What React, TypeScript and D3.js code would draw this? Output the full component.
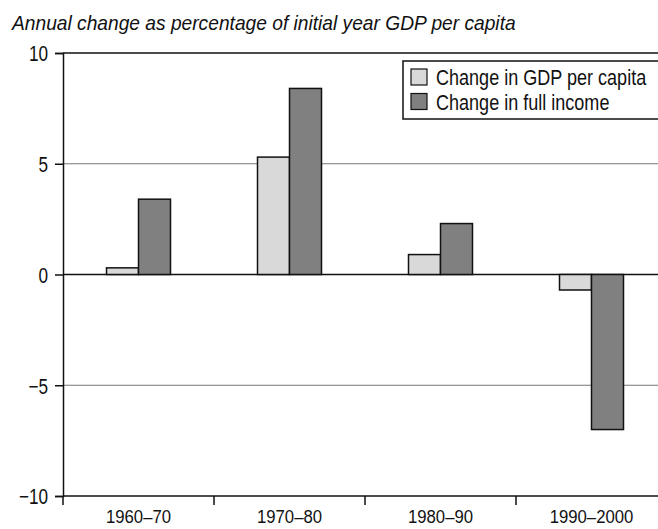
import React, { useRef, useEffect } from 'react';
import * as d3 from 'd3';

const periods = ['1960–70', '1970–80', '1980–90', '1990–2000'];
const gdpChange = [0.3, 5.3, 0.9, -0.7];
const fullIncomeChange = [3.4, 8.4, 2.3, -7.0];
const yTicks = [-10, -5, 0, 5, 10];
const seriesNames = ['Change in GDP per capita', 'Change in full income'];
const seriesColors = ['#d9d9d9', '#808080'];

const FONT = "'Liberation Sans', Arial, sans-serif";

// squeeze text horizontally around its anchor to mimic a condensed face
function condense(sel: d3.Selection<any, any, any, any>, factor: number) {
  sel.each(function () {
    const node = d3.select(this as SVGTextElement);
    const x0 = +(node.attr('x') || 0);
    const y0 = +(node.attr('y') || 0);
    node.attr('x', 0).attr('y', 0)
      .attr('transform', `translate(${x0},${y0}) scale(${factor},1)`);
  });
}

const App: React.FC = () => {
  const svgRef = useRef<SVGSVGElement>(null);

  useEffect(() => {
    if (!svgRef.current) return;
    document.body.style.margin = '0';

    const width = 658;
    const height = 529;
    const svg = d3.select(svgRef.current);
    svg.selectAll('*').remove();
    svg.attr('width', width).attr('height', height).style('font-family', FONT);

    // plot runs past the right edge of the picture
    const x = d3.scaleBand().domain(periods).range([63, 667]);
    const y = d3.scaleLinear().domain([-10, 10]).range([496, 53]);
    const inner = d3.scaleBand().domain(['0', '1']).range([0, 64]);
    const offset = (x.bandwidth() - 64) / 2;

    // title
    const title = svg.append('text')
      .attr('x', 12)
      .attr('y', 30)
      .style('font-size', '20.5px')
      .style('font-style', 'italic')
      .attr('fill', '#111')
      .text('Annual change as percentage of initial year GDP per capita');
    const titleLen = (title.node() as SVGTextElement).getComputedTextLength();
    condense(title, 504 / titleLen);

    // horizontal lines
    svg.append('g')
      .selectAll('line')
      .data(yTicks)
      .join('line')
      .attr('x1', 63)
      .attr('x2', width)
      .attr('y1', d => y(d))
      .attr('y2', d => y(d))
      .attr('stroke', d => (d === 5 || d === -5 ? '#777' : '#111'))
      .attr('stroke-width', d => (d === 5 || d === -5 ? 1 : 1.5));

    // bars
    const series = [gdpChange, fullIncomeChange];
    series.forEach((vals, si) => {
      svg.append('g')
        .selectAll('rect')
        .data(vals)
        .join('rect')
        .attr('x', (_, i) => (x(periods[i]) || 0) + offset + (inner(String(si)) || 0))
        .attr('y', d => y(Math.max(0, d)))
        .attr('width', inner.bandwidth())
        .attr('height', d => Math.abs(y(d) - y(0)))
        .attr('fill', seriesColors[si])
        .attr('stroke', '#111')
        .attr('stroke-width', 1.5);
    });

    // y axis
    const yAxis = svg.append('g')
      .attr('transform', 'translate(63,0)')
      .call(d3.axisLeft(y).tickValues(yTicks).tickSize(8).tickPadding(7)
        .tickFormat(d => (Number(d) < 0 ? '\u2212' + Math.abs(Number(d)) : String(d))));
    yAxis.select('.domain').attr('stroke', '#111').attr('stroke-width', 1.5);
    yAxis.selectAll('.tick line').attr('stroke', '#111').attr('stroke-width', 1.5);
    const yLabels = yAxis.selectAll('.tick text')
      .attr('fill', '#111')
      .attr('dy', '0.36em')
      .style('font-size', '22px')
      .style('font-family', FONT);
    condense(yLabels as any, 0.78);

    // x axis
    const xTickPos = d3.range(periods.length + 1).map(i => 63 + i * x.bandwidth());
    svg.append('g')
      .selectAll('line')
      .data(xTickPos)
      .join('line')
      .attr('x1', d => d)
      .attr('x2', d => d)
      .attr('y1', 496)
      .attr('y2', 505)
      .attr('stroke', '#111')
      .attr('stroke-width', 1.5);
    const xLabels = svg.append('g')
      .selectAll('text')
      .data(periods)
      .join('text')
      .attr('x', d => (x(d) || 0) + x.bandwidth() / 2)
      .attr('y', 523)
      .attr('text-anchor', 'middle')
      .attr('fill', '#111')
      .style('font-size', '19px')
      .text(d => d);
    condense(xLabels as any, 0.88);

    // legend
    const legend = svg.append('g');
    legend.append('rect')
      .attr('x', 403)
      .attr('y', 61)
      .attr('width', 270)
      .attr('height', 58)
      .attr('fill', '#fff')
      .attr('stroke', '#111')
      .attr('stroke-width', 1.5);
    seriesNames.forEach((name, i) => {
      legend.append('rect')
        .attr('x', 411)
        .attr('y', 69 + i * 24.5)
        .attr('width', 16)
        .attr('height', 16)
        .attr('fill', seriesColors[i])
        .attr('stroke', '#111')
        .attr('stroke-width', 1.2);
      const t = legend.append('text')
        .attr('x', 436)
        .attr('y', 85 + i * 24.5)
        .attr('fill', '#111')
        .style('font-size', '22px')
        .text(name);
      condense(t, 0.82);
    });
  }, []);

  return <svg ref={svgRef} style={{ display: 'block', overflow: 'hidden' }} />;
};

export default App;
